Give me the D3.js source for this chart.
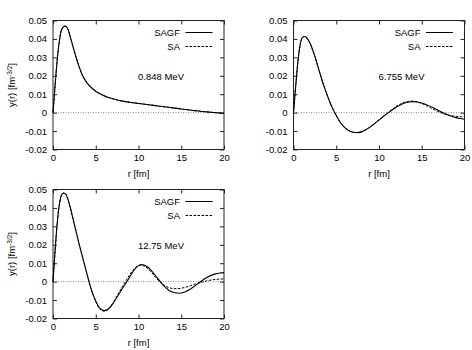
<!DOCTYPE html>
<html><head><meta charset="utf-8">
<script src="https://cdn.jsdelivr.net/npm/d3@7"></script>
<style>body{margin:0;background:#fff}svg{display:block}text{font-family:"Liberation Sans",Arial,sans-serif}</style>
</head><body><svg id="c" width="472" height="350"></svg>
<script>
const rGrid = [0,0.25,0.5,0.75,1,1.25,1.5,1.75,2,2.5,3,3.5,4,4.5,5,5.5,6,6.5,7,7.5,8,8.5,9,9.5,10,10.5,11,11.5,12,12.5,13,13.5,14,14.5,15,15.5,16,16.5,17,17.5,18,18.5,19,19.5,20];

const sagf1 = [0,0.015,0.029,0.039,0.045,0.0468,0.0468,0.0452,0.0415,0.0332,0.0257,0.0197,0.0160,0.0135,0.0116,0.0102,0.0091,0.0082,0.0075,0.0069,0.0064,0.0060,0.0056,0.0053,0.0050,0.0047,0.0044,0.0041,0.0038,0.0035,0.0032,0.0029,0.0026,0.0023,0.0020,0.0017,0.0014,0.0011,0.0009,0.0006,0.0004,0.0002,0.0000,-0.0002,-0.0004];
const sa1   = [0,0.015,0.029,0.039,0.045,0.0468,0.0468,0.0452,0.0415,0.0332,0.0257,0.0197,0.0160,0.0135,0.0116,0.0102,0.0091,0.0082,0.0075,0.0069,0.0064,0.0060,0.0056,0.0053,0.0050,0.0047,0.0044,0.0041,0.0038,0.0035,0.0032,0.0029,0.0026,0.0023,0.0020,0.0017,0.0014,0.0011,0.0009,0.0006,0.0004,0.0002,0.0000,-0.0002,-0.0004];

const sagf2 = [0,0.014,0.027,0.036,0.0405,0.0413,0.0408,0.0393,0.0370,0.0305,0.0228,0.0152,0.0088,0.0030,-0.0015,-0.0055,-0.0081,-0.0098,-0.0106,-0.0108,-0.0103,-0.0092,-0.0077,-0.0059,-0.0040,-0.0021,-0.0004,0.0013,0.0029,0.0042,0.0052,0.0058,0.0060,0.0058,0.0052,0.0044,0.0034,0.0022,0.0010,-0.0001,-0.0011,-0.0020,-0.0027,-0.0032,-0.0036];
const sa2   = [0,0.014,0.027,0.036,0.0405,0.0413,0.0408,0.0393,0.0370,0.0305,0.0228,0.0152,0.0088,0.0030,-0.0015,-0.0055,-0.0082,-0.0099,-0.0107,-0.0109,-0.0104,-0.0092,-0.0076,-0.0058,-0.0039,-0.0020,-0.0003,0.0016,0.0033,0.0047,0.0057,0.0062,0.0062,0.0058,0.0050,0.0039,0.0027,0.0015,0.0004,-0.0005,-0.0012,-0.0017,-0.0020,-0.0022,-0.0023];

const sagf3 = [0,0.017,0.032,0.042,0.047,0.0481,0.0474,0.0445,0.0405,0.0310,0.0215,0.0125,0.0038,-0.0045,-0.0105,-0.0145,-0.0157,-0.0147,-0.0120,-0.0083,-0.0045,-0.0010,0.0027,0.0063,0.0087,0.0092,0.0082,0.0060,0.0032,0.0003,-0.0024,-0.0045,-0.0057,-0.0062,-0.0062,-0.0055,-0.0042,-0.0026,-0.0009,0.0008,0.0022,0.0034,0.0042,0.0047,0.0049];
const sa3   = [0,0.017,0.032,0.042,0.047,0.0481,0.0474,0.0445,0.0405,0.0310,0.0215,0.0125,0.0036,-0.0048,-0.0108,-0.0150,-0.0161,-0.0149,-0.0117,-0.0076,-0.0036,0.0003,0.0040,0.0070,0.0087,0.0087,0.0074,0.0051,0.0024,-0.0002,-0.0020,-0.0032,-0.0037,-0.0038,-0.0036,-0.0030,-0.0023,-0.0015,-0.0008,-0.0002,0.0004,0.0009,0.0012,0.0014,0.0015];

const energyLabels = ["0.848 MeV","6.755 MeV","12.75 MeV"];
const seriesNames = ["SAGF","SA"];
const xTicks = [0,5,10,15,20];
const xTickLabels = ["0","5","10","15","20"];
const yTicks = [-0.02,-0.01,0,0.01,0.02,0.03,0.04,0.05];
const yTickLabels = ["-0.02","-0.01","0","0.01","0.02","0.03","0.04","0.05"];
const xLabel = "r [fm]";

const panels = [
  {sagf: sagf1, sa: sa1, label: energyLabels[0], left: 53, top: 20.5, ylab: true},
  {sagf: sagf2, sa: sa2, label: energyLabels[1], left: 293.5, top: 20.5, ylab: false},
  {sagf: sagf3, sa: sa3, label: energyLabels[2], left: 53, top: 189.5, ylab: true}
];
const W = 171, H = 129, FS = "9.5px";

const svg = d3.select("#c");

panels.forEach(p => {
  const x = d3.scaleLinear().domain([0,20]).range([p.left, p.left + W]);
  const y = d3.scaleLinear().domain([-0.02,0.05]).range([p.top + H, p.top]);
  const g = svg.append("g");

  g.append("line").attr("x1", x(0)).attr("x2", x(20)).attr("y1", y(0)).attr("y2", y(0))
    .attr("stroke", "#888").attr("stroke-width", 1).attr("stroke-dasharray", "1,1.5");

  const fmtX = (d) => xTickLabels[xTicks.indexOf(d)];
  const fmtY = (d) => yTickLabels[yTicks.indexOf(d)];

  const axB = g.append("g").attr("transform", `translate(0,${p.top + H})`)
    .call(d3.axisBottom(x).tickValues(xTicks).tickFormat(fmtX).tickSize(-4).tickPadding(5));
  const axT = g.append("g").attr("transform", `translate(0,${p.top})`)
    .call(d3.axisTop(x).tickValues(xTicks).tickFormat("").tickSize(-4));
  const axL = g.append("g").attr("transform", `translate(${p.left},0)`)
    .call(d3.axisLeft(y).tickValues(yTicks).tickFormat(fmtY).tickSize(-4).tickPadding(6));
  const axR = g.append("g").attr("transform", `translate(${p.left + W},0)`)
    .call(d3.axisRight(y).tickValues(yTicks).tickFormat("").tickSize(-4));
  [axB, axT, axL, axR].forEach(a => {
    a.select(".domain").remove();
    a.selectAll("line").attr("stroke", "#222");
    a.selectAll("text").attr("font-size", FS).attr("fill", "#000")
      .style("font-family", '"Liberation Sans",Arial,sans-serif');
  });

  g.append("rect").attr("x", p.left).attr("y", p.top).attr("width", W).attr("height", H)
    .attr("fill", "none").attr("stroke", "#222").attr("stroke-width", 1);

  const line = d3.line().x((d,i) => x(rGrid[i])).y(d => y(d)).curve(d3.curveCatmullRom.alpha(0.5));
  g.append("path").datum(p.sa).attr("d", line).attr("fill", "none")
    .attr("stroke", "#000").attr("stroke-width", 1).attr("stroke-dasharray", "2.5,1.5");
  g.append("path").datum(p.sagf).attr("d", line).attr("fill", "none")
    .attr("stroke", "#000").attr("stroke-width", 1.1);

  const lx1 = p.left + W - 38.5, lx2 = p.left + W - 11.5;
  const ly = [p.top + 12, p.top + 26];
  seriesNames.forEach((n, i) => {
    g.append("text").attr("x", lx1 - 5.5).attr("y", ly[i]).attr("dy", "0.35em")
      .attr("text-anchor", "end").attr("font-size", FS).text(n);
    g.append("line").attr("x1", lx1).attr("x2", lx2).attr("y1", ly[i]).attr("y2", ly[i])
      .attr("stroke", "#000").attr("stroke-width", 1)
      .attr("stroke-dasharray", i === 1 ? "2.5,1.5" : null);
  });

  g.append("text").attr("x", p.left + 108).attr("y", p.top + 56).attr("dy", "0.35em")
    .attr("text-anchor", "middle").attr("font-size", FS).text(p.label);

  g.append("text").attr("x", p.left + W / 2).attr("y", p.top + H + 24).attr("dy", "0.35em")
    .attr("text-anchor", "middle").attr("font-size", FS).text(xLabel);

  if (p.ylab) {
    const t = g.append("text").attr("transform", `translate(12,${p.top + H / 2}) rotate(-90)`)
      .attr("text-anchor", "middle").attr("dy", "0.35em").attr("font-size", FS);
    t.append("tspan").text("y(r) [fm");
    t.append("tspan").attr("font-size", "6.5px").attr("dy", "-3.5").text("-3/2");
    t.append("tspan").attr("dy", "3.5").text("]");
  }
});
</script></body></html>
